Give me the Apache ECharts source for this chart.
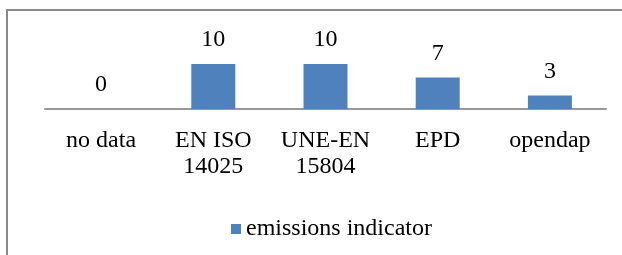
<!DOCTYPE html>
<html>
<head>
<meta charset="utf-8">
<script src="https://cdn.jsdelivr.net/npm/echarts@6/dist/echarts.min.js"></script>
<style>
  html, body { margin: 0; padding: 0; background: #fff; }
  #chart { width: 622px; height: 255px; }
</style>
</head>
<body>
<div id="chart"></div>
<script>
const categories = ['no data', 'EN ISO\n14025', 'UNE-EN\n15804', 'EPD', 'opendap']
const values = [0, 10, 10, 7, 3]
const seriesName = 'emissions indicator'

const font = '"Liberation Serif", "Times New Roman", serif'

const chart = echarts.init(document.getElementById('chart'))
chart.setOption({
  animation: false,
  grid: { left: 45, right: 16, top: 64, bottom: 146 },
  graphic: {
    elements: [
      {
        type: 'rect',
        shape: { x: 7, y: 10, width: 700, height: 300 },
        style: { fill: 'none', stroke: '#8a8a8a', lineWidth: 2 },
        silent: true
      }
    ]
  },
  legend: {
    data: [seriesName],
    left: 226,
    top: 212,
    icon: 'rect',
    itemWidth: 10,
    itemHeight: 10,
    itemGap: 5,
    textStyle: { fontFamily: font, fontSize: 24, color: '#000' }
  },
  xAxis: {
    type: 'category',
    data: categories,
    axisLine: { lineStyle: { color: '#999', width: 2 } },
    axisTick: { show: false },
    axisLabel: {
      margin: 19,
      interval: 0,
      fontFamily: font,
      fontSize: 24,
      lineHeight: 26,
      color: '#000'
    }
  },
  yAxis: {
    type: 'value',
    min: 0,
    max: 10,
    show: false
  },
  series: [
    {
      name: seriesName,
      type: 'bar',
      data: values,
      barWidth: 44,
      itemStyle: { color: '#4F81BD' },
      label: {
        show: true,
        position: 'top',
        distance: 12,
        fontFamily: font,
        fontSize: 24,
        color: '#000'
      }
    }
  ]
})
</script>
</body>
</html>
